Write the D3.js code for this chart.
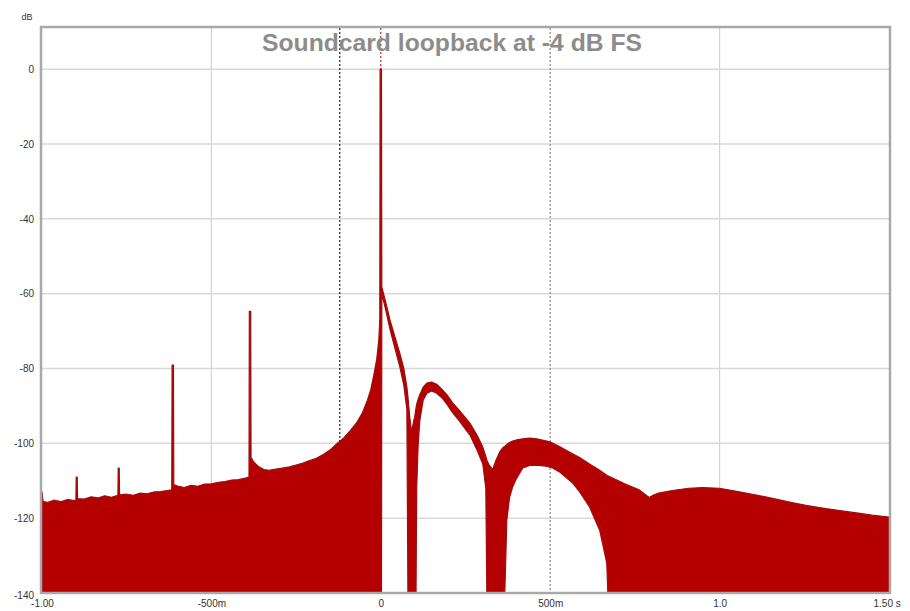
<!DOCTYPE html>
<html>
<head>
<meta charset="utf-8">
<script src="https://cdn.jsdelivr.net/npm/d3@7"></script>
<style>
  html, body { margin: 0; padding: 0; background: #ffffff; }
  svg { display: block; }
  text { font-family: "Liberation Sans", Arial, sans-serif; }
</style>
</head>
<body>
<svg id="chart" width="910" height="611"></svg>
<script>
// ---- data ----
const chartTitle = "Soundcard loopback at -4 dB FS";
const yUnit = "dB";
const timeS = [
  -1.000, -0.997, -0.985, -0.965, -0.945, -0.925, -0.905, -0.900, -0.899, -0.896, -0.895,
  -0.875, -0.855, -0.835, -0.815, -0.795, -0.776, -0.775, -0.772, -0.771,
  -0.750, -0.730, -0.710, -0.690, -0.670, -0.650, -0.630, -0.617, -0.616, -0.612, -0.611,
  -0.600, -0.580, -0.560, -0.540, -0.520, -0.500, -0.480, -0.460, -0.440, -0.420, -0.400,
  -0.389, -0.388, -0.384, -0.383, -0.375, -0.360, -0.345, -0.330, -0.310, -0.290, -0.270,
  -0.250, -0.230, -0.210, -0.190, -0.170, -0.150, -0.130, -0.110, -0.090, -0.070, -0.055,
  -0.040, -0.030, -0.020, -0.012, -0.006, -0.003, -0.002, 0.002,
  0.003, 0.015, 0.027, 0.040, 0.056, 0.068, 0.077, 0.080, 0.0855, 0.091, 0.0975,
  0.100, 0.104, 0.106, 0.110, 0.115, 0.125, 0.136, 0.150, 0.165, 0.180, 0.195, 0.212,
  0.230, 0.263, 0.285, 0.301, 0.310, 0.313, 0.320, 0.330, 0.340, 0.351, 0.360, 0.366,
  0.372, 0.380, 0.389, 0.400, 0.419, 0.440, 0.460, 0.480, 0.499, 0.507, 0.530, 0.566,
  0.587, 0.616, 0.646, 0.667, 0.670, 0.684, 0.720, 0.764, 0.792, 0.805, 0.820, 0.860,
  0.909, 0.950, 1.000, 1.050, 1.109, 1.160, 1.206, 1.255, 1.304, 1.355, 1.404, 1.450, 1.500
];
const upperDb = [
  -113.0, -115.5, -115.8, -115.2, -115.6, -115.0, -115.3, -115.2, -109.0, -109.0, -114.8,
  -114.9, -114.3, -114.6, -114.0, -114.4, -113.9, -106.6, -106.6, -113.8,
  -113.6, -113.9, -113.3, -113.5, -113.0, -112.9, -112.6, -112.4, -79.1, -79.1, -111.0,
  -111.4, -111.8, -111.2, -111.5, -110.9, -110.8, -110.4, -110.2, -109.8, -109.7, -109.3,
  -109.0, -64.7, -64.7, -103.8, -105.0, -106.3, -107.0, -107.2, -106.9, -106.6, -106.3,
  -105.8, -105.3, -104.6, -104.0, -103.0, -101.8, -100.1, -98.6, -96.6, -94.3, -92.0,
  -88.6, -85.8, -81.5, -77.5, -72.5, -67.0, 0.0, 0.0,
  -58.2, -62.5, -67.0, -71.0, -75.9, -80.0, -85.0, -87.5, -93.0, -97.0, -93.8,
  -93.0, -90.5, -89.5, -88.3, -87.0, -85.0, -83.9, -83.6, -84.2, -85.5, -87.0, -89.2,
  -91.0, -94.6, -98.0, -101.0, -103.5, -104.5, -105.8, -107.0, -104.5, -102.3, -101.2, -100.8,
  -100.3, -99.8, -99.4, -99.1, -98.8, -98.6, -98.8, -99.2, -99.6, -99.9, -101.0, -102.8,
  -103.8, -105.5, -107.2, -108.5, -108.7, -109.3, -110.8, -112.5, -114.5, -113.8, -113.3, -112.6,
  -112.0, -111.8, -112.0, -112.8, -113.8, -114.8, -115.7, -116.6, -117.3, -118.0, -118.6, -119.2, -119.7
];
const lowerDb = [
  -140, -140, -140, -140, -140, -140, -140, -140, -140, -140, -140,
  -140, -140, -140, -140, -140, -140, -140, -140, -140,
  -140, -140, -140, -140, -140, -140, -140, -140, -140, -140, -140,
  -140, -140, -140, -140, -140, -140, -140, -140, -140, -140, -140,
  -140, -140, -140, -140, -140, -140, -140, -140, -140, -140, -140,
  -140, -140, -140, -140, -140, -140, -140, -140, -140, -140, -140,
  -140, -140, -140, -140, -140, -140, -140, -140,
  -60.0, -64.5, -69.5, -74.0, -79.5, -84.5, -91.0, -140, -140, -140, -140,
  -140, -140, -112.0, -101.0, -94.0, -88.5, -86.6, -86.0, -86.6, -87.8, -89.5, -91.8,
  -93.8, -97.8, -102.0, -105.5, -112.0, -140, -140, -140, -140, -140, -140, -140,
  -120.5, -114.5, -111.7, -109.5, -106.6, -105.9, -105.8, -106.0, -106.4, -106.6, -107.8, -110.6,
  -113.0, -117.0, -123.2, -132.0, -140, -140, -140, -140, -140, -140, -140, -140,
  -140, -140, -140, -140, -140, -140, -140, -140, -140, -140, -140, -140, -140
];
const yTicks = [0, -20, -40, -60, -80, -100, -120, -140];
const xTicks = [-1.0, -0.5, 0, 0.5, 1.0, 1.5];
const xTickLabels = ["-1.00", "-500m", "0", "500m", "1.0", "1.50 s"];
const solidGridX = [-0.5, 1.0];
const markerTimes = [-0.121, 0, 0.5];
const markerColors = ["#222222", "#b03030", "#8a8a8a"];

// ---- layout ----
const svg = d3.select("#chart");
const plotLeft = 42, plotRight = 889, plotTop = 28, plotBottom = 593;
const x = d3.scaleLinear().domain([-1, 1.5]).range([plotLeft, plotRight]);
const y = d3.scaleLinear().domain([-140, 11]).range([plotBottom, plotTop]);

const data = timeS.map((t, i) => ({ t, hi: upperDb[i], lo: lowerDb[i] }));

// gridlines
svg.append("g").selectAll("line").data(yTicks.filter(v => v > -140)).join("line")
  .attr("x1", plotLeft).attr("x2", plotRight)
  .attr("y1", d => y(d)).attr("y2", d => y(d))
  .attr("stroke", "#d9d9d9").attr("stroke-width", 1.5);
svg.append("g").selectAll("line").data(solidGridX).join("line")
  .attr("x1", d => x(d)).attr("x2", d => x(d))
  .attr("y1", plotTop).attr("y2", plotBottom)
  .attr("stroke", "#d4d4d4").attr("stroke-width", 1.2);

// marker dotted lines
svg.append("g").selectAll("line").data(markerTimes).join("line")
  .attr("x1", d => x(d)).attr("x2", d => x(d))
  .attr("y1", plotTop).attr("y2", plotBottom)
  .attr("stroke", (d, i) => markerColors[i])
  .attr("stroke-width", 1.2)
  .attr("stroke-dasharray", "2,2");

// filled response
const area = d3.area()
  .x(d => x(d.t))
  .y0(d => y(d.lo))
  .y1(d => y(d.hi));
svg.append("path").datum(data)
  .attr("d", area)
  .attr("fill", "#b40000")
  .attr("stroke", "#a00c10")
  .attr("stroke-width", 1.2)
  .attr("stroke-linejoin", "round");

// frame
svg.append("rect")
  .attr("x", plotLeft - 1).attr("y", plotTop - 1)
  .attr("width", plotRight - plotLeft + 2).attr("height", plotBottom - plotTop + 1)
  .attr("fill", "none").attr("stroke", "#a9a9a9").attr("stroke-width", 2.5);

// axes (labels only)
const yAxis = d3.axisLeft(y).tickValues(yTicks).tickSize(0).tickPadding(6)
  .tickFormat(d => String(d));
const gy = svg.append("g").attr("transform", `translate(${plotLeft - 2},0)`).call(yAxis);
gy.select(".domain").remove();
gy.selectAll("text").attr("font-size", 10).attr("fill", "#333")
  .attr("font-family", "'Liberation Sans', Arial, sans-serif")
  .attr("transform", d => d === -140 ? "translate(0,2)" : null);

const xAxis = d3.axisBottom(x).tickValues(xTicks).tickSize(0).tickPadding(7)
  .tickFormat((d, i) => xTickLabels[i]);
const gx = svg.append("g").attr("transform", `translate(0,${plotBottom})`).call(xAxis);
gx.select(".domain").remove();
gx.selectAll("text").attr("font-size", 10).attr("fill", "#333")
  .attr("font-family", "'Liberation Sans', Arial, sans-serif")
  .attr("text-anchor", (d, i) => i === xTicks.length - 1 ? "start" : "middle")
  .attr("dx", (d, i) => i === xTicks.length - 1 ? -16 : 0);

// unit label
svg.append("text").attr("x", 27).attr("y", 20).attr("text-anchor", "middle")
  .attr("font-size", 9).attr("fill", "#333").text(yUnit);

// title
svg.append("text").attr("x", 452).attr("y", 51).attr("text-anchor", "middle")
  .attr("font-size", 23).attr("font-weight", "bold").attr("fill", "#8c8c8c")
  .attr("textLength", 380).attr("lengthAdjust", "spacingAndGlyphs")
  .text(chartTitle);
</script>
</body>
</html>
